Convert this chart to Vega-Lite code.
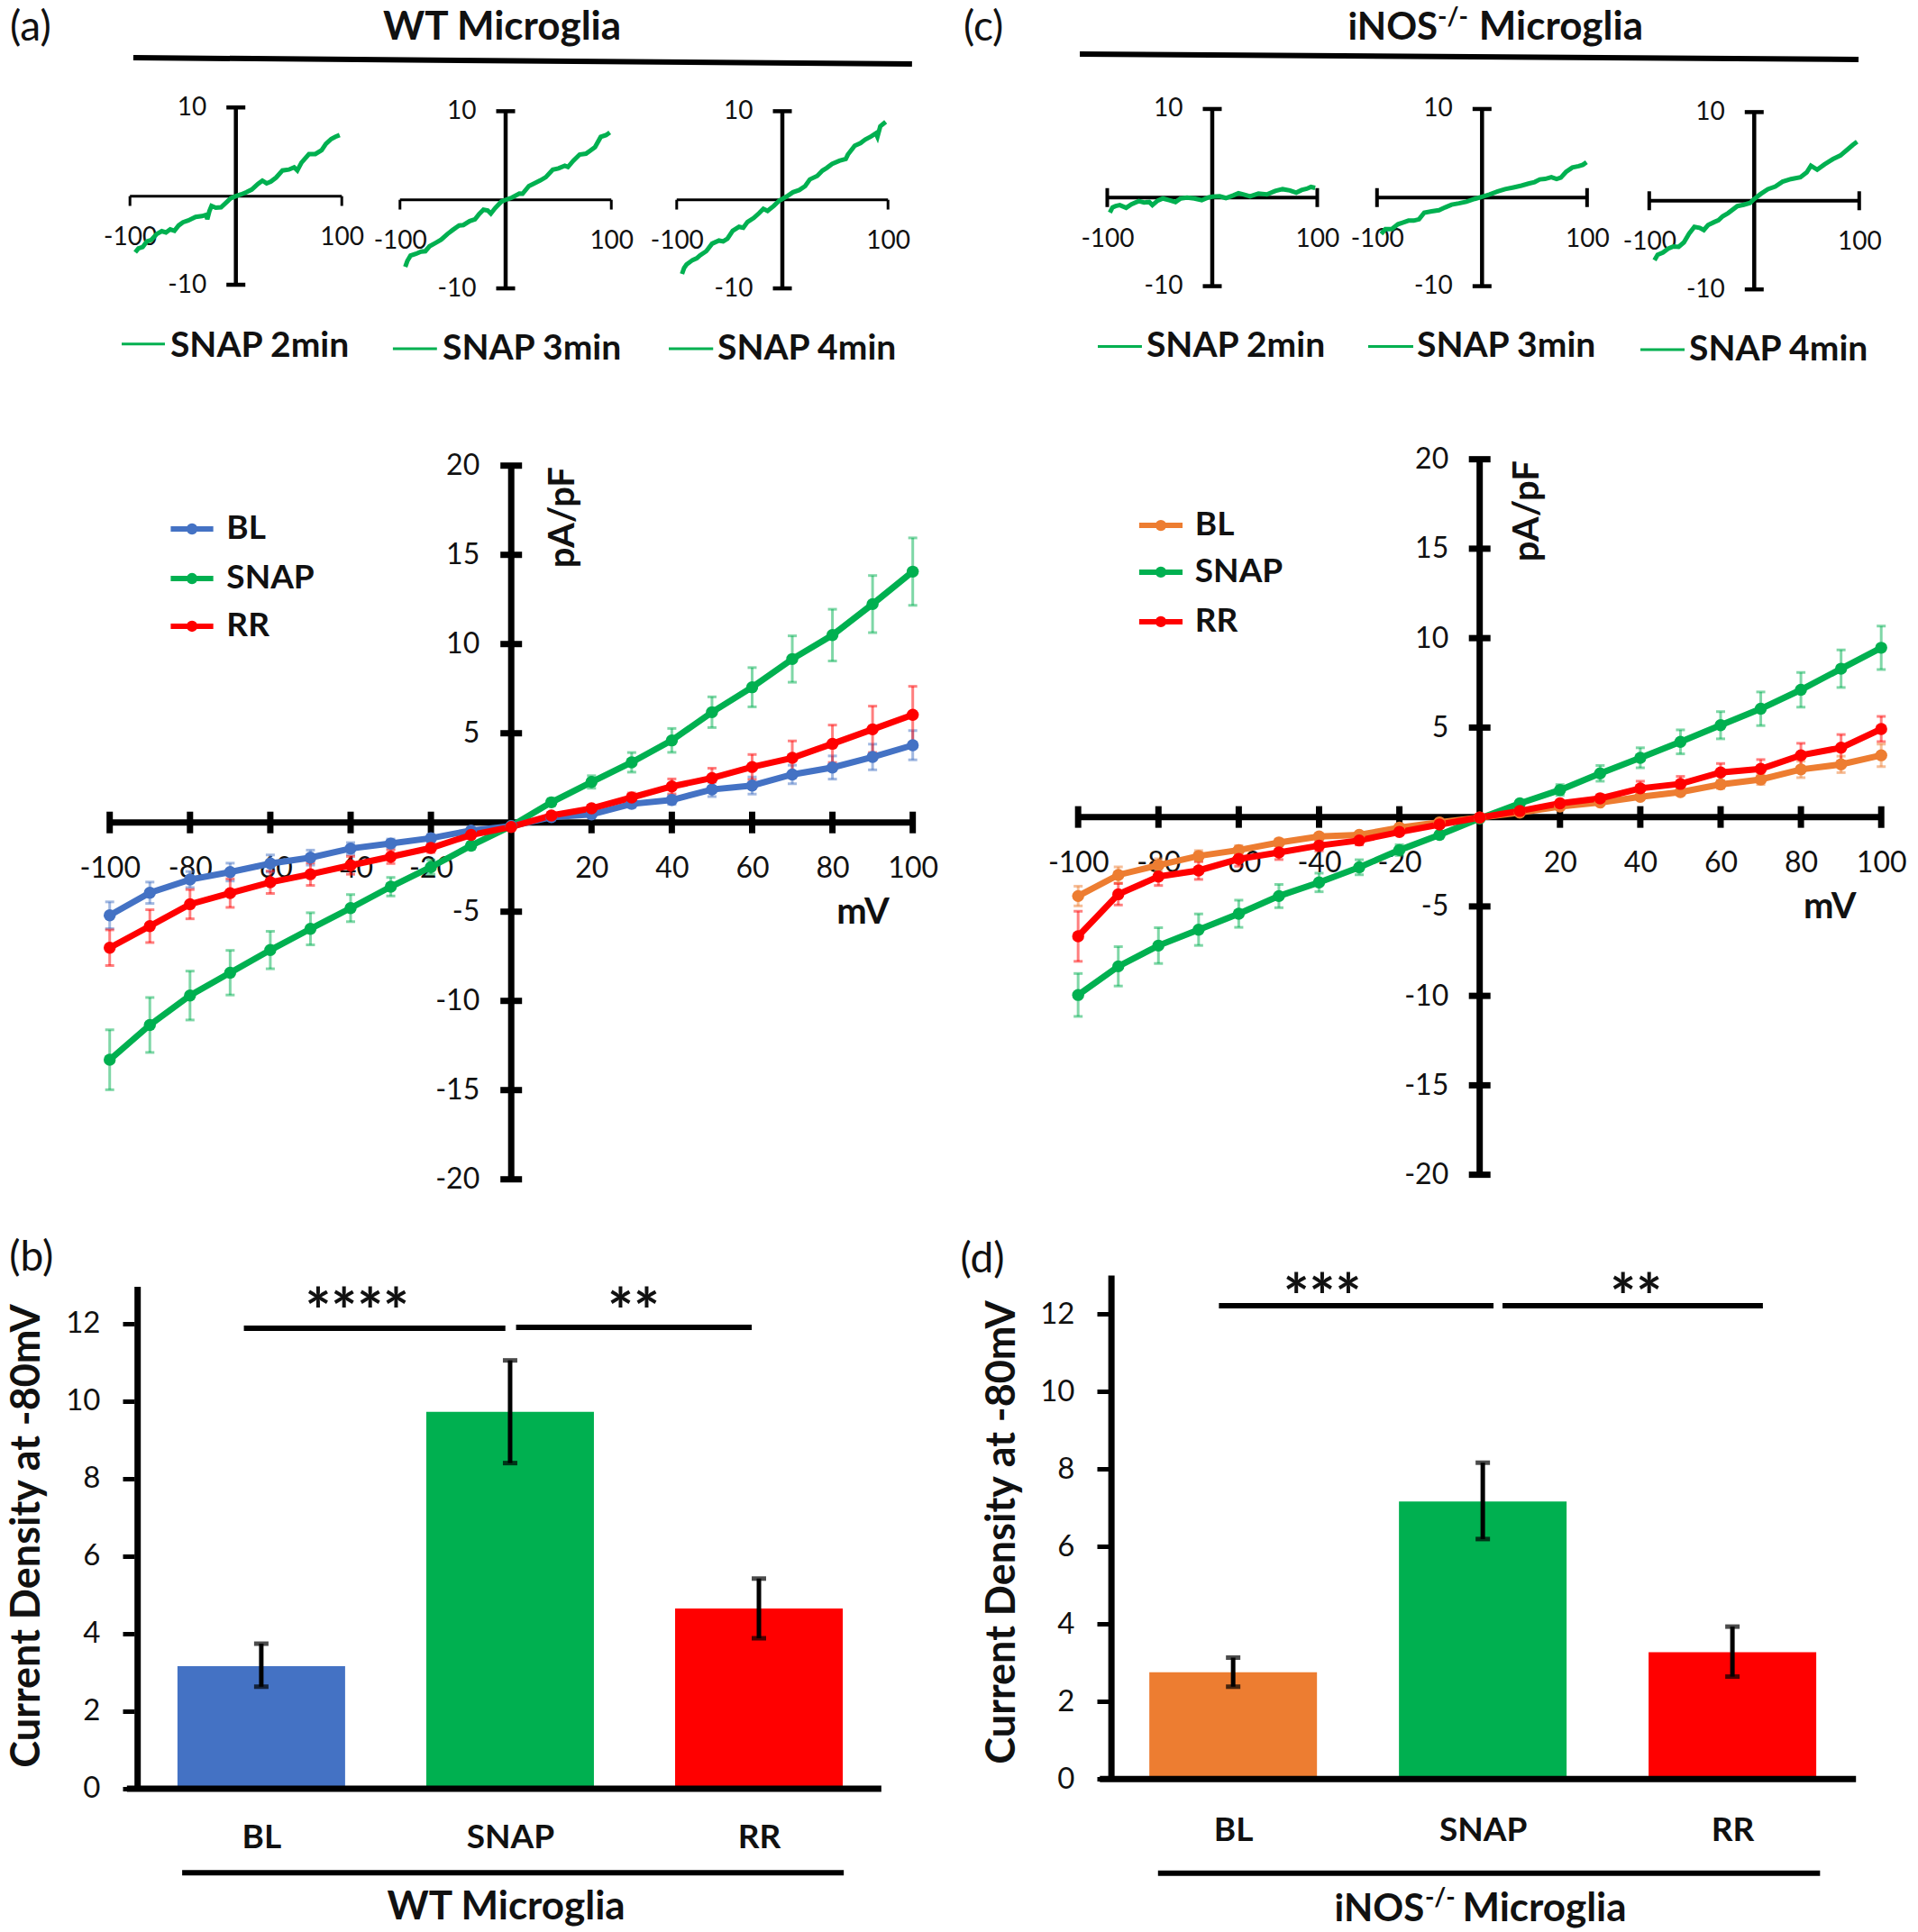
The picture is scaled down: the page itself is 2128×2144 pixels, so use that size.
{"$schema":"https://vega.github.io/schema/vega-lite/v6.json","padding":0,"background":"white","spacing":0,"config":{"view":{"stroke":null},"font":"Lato","concat":{"spacing":0},"axis":{"grid":false,"domain":false,"ticks":false,"tickSize":0,"labelFont":"Lato","labelColor":"#111","zindex":1,"labelOverlap":false,"labelBound":false,"labelFlush":false},"text":{"font":"Lato","color":"#111","baseline":"middle"}},"resolve":{"scale":{"color":"independent"}},
"datasets":{"one":[{}],
"lga":[{"s":"BL","ly":16.45},{"s":"SNAP","ly":13.67},{"s":"RR","ly":11.0}],
"lgc":[{"s":"BL","ly":16.3},{"s":"SNAP","ly":13.69},{"s":"RR","ly":10.92}],
"a1":[{"mV":-95,"pA":-6.34},{"mV":-92,"pA":-5.9},{"mV":-88,"pA":-5.75},{"mV":-84,"pA":-5.1},{"mV":-80,"pA":-4.95},{"mV":-75,"pA":-4.3},{"mV":-70,"pA":-3.95},{"mV":-66,"pA":-4.1},{"mV":-62,"pA":-3.75},{"mV":-58,"pA":-3.9},{"mV":-54,"pA":-3.3},{"mV":-50,"pA":-2.95},{"mV":-45,"pA":-2.75},{"mV":-38,"pA":-2.35},{"mV":-32,"pA":-2.25},{"mV":-28,"pA":-2.1},{"mV":-27,"pA":-2.6},{"mV":-25,"pA":-1.7},{"mV":-23,"pA":-1.1},{"mV":-19,"pA":-1.3},{"mV":-14,"pA":-1.25},{"mV":-9,"pA":-0.7},{"mV":-5,"pA":-0.25},{"mV":0,"pA":0},{"mV":5,"pA":0.2},{"mV":10,"pA":0.45},{"mV":15,"pA":0.75},{"mV":21,"pA":1.4},{"mV":25,"pA":1.75},{"mV":29,"pA":1.45},{"mV":33,"pA":1.65},{"mV":38,"pA":2.1},{"mV":44,"pA":2.9},{"mV":50,"pA":3.0},{"mV":55,"pA":3.25},{"mV":58,"pA":2.9},{"mV":62,"pA":3.8},{"mV":69,"pA":4.75},{"mV":75,"pA":4.75},{"mV":81,"pA":5.2},{"mV":85,"pA":5.9},{"mV":90,"pA":6.45},{"mV":94,"pA":6.7},{"mV":98,"pA":6.9}],
"a2":[{"mV":-95,"pA":-7.56},{"mV":-93,"pA":-6.9},{"mV":-90,"pA":-6.3},{"mV":-85,"pA":-6.1},{"mV":-80,"pA":-5.85},{"mV":-76,"pA":-5.8},{"mV":-72,"pA":-5.25},{"mV":-66,"pA":-4.85},{"mV":-61,"pA":-4.5},{"mV":-55,"pA":-3.85},{"mV":-50,"pA":-3.4},{"mV":-44,"pA":-2.9},{"mV":-40,"pA":-2.85},{"mV":-34,"pA":-2.4},{"mV":-29,"pA":-2.2},{"mV":-25,"pA":-1.6},{"mV":-21,"pA":-1.12},{"mV":-17,"pA":-1.2},{"mV":-14,"pA":-1.55},{"mV":-10,"pA":-0.95},{"mV":-4,"pA":-0.2},{"mV":0,"pA":0},{"mV":6,"pA":0.25},{"mV":13,"pA":0.7},{"mV":16,"pA":0.68},{"mV":22,"pA":1.55},{"mV":28,"pA":1.9},{"mV":33,"pA":2.2},{"mV":38,"pA":2.55},{"mV":44.6,"pA":3.4},{"mV":50,"pA":3.55},{"mV":56,"pA":3.85},{"mV":59,"pA":3.7},{"mV":64,"pA":4.4},{"mV":70,"pA":5.1},{"mV":76,"pA":5.2},{"mV":80,"pA":5.55},{"mV":84.6,"pA":5.95},{"mV":90,"pA":7.1},{"mV":95,"pA":7.3},{"mV":98.6,"pA":7.6}],
"a3":[{"mV":-95,"pA":-8.37},{"mV":-93,"pA":-7.7},{"mV":-90.7,"pA":-7.3},{"mV":-85,"pA":-6.8},{"mV":-81,"pA":-6.6},{"mV":-78,"pA":-6.27},{"mV":-72,"pA":-5.8},{"mV":-66.5,"pA":-4.95},{"mV":-60,"pA":-4.6},{"mV":-56,"pA":-4.7},{"mV":-52,"pA":-4.4},{"mV":-47,"pA":-3.5},{"mV":-41,"pA":-3.05},{"mV":-37,"pA":-3.15},{"mV":-33,"pA":-2.5},{"mV":-27,"pA":-2.05},{"mV":-22,"pA":-1.5},{"mV":-18,"pA":-1.02},{"mV":-14,"pA":-1.25},{"mV":-8,"pA":-0.68},{"mV":-3,"pA":-0.1},{"mV":0,"pA":0.1},{"mV":5,"pA":0.45},{"mV":10,"pA":0.85},{"mV":16,"pA":1.1},{"mV":21.6,"pA":1.55},{"mV":26,"pA":2.3},{"mV":33,"pA":2.7},{"mV":38,"pA":3.3},{"mV":42,"pA":3.6},{"mV":47,"pA":4.05},{"mV":54,"pA":4.4},{"mV":60,"pA":4.6},{"mV":62,"pA":5.1},{"mV":68.5,"pA":6.1},{"mV":74,"pA":6.4},{"mV":78.5,"pA":6.8},{"mV":84,"pA":7.15},{"mV":88.5,"pA":7.5},{"mV":90,"pA":7.1},{"mV":92.7,"pA":8.3},{"mV":97.8,"pA":8.8}],
"c1":[{"mV":-97.5,"pA":-1.7},{"mV":-95,"pA":-1.1},{"mV":-92,"pA":-0.95},{"mV":-88,"pA":-0.85},{"mV":-82,"pA":-1.15},{"mV":-77,"pA":-0.75},{"mV":-70,"pA":-0.4},{"mV":-65,"pA":-0.55},{"mV":-60,"pA":-0.5},{"mV":-57,"pA":-0.85},{"mV":-52,"pA":-0.35},{"mV":-47,"pA":-0.1},{"mV":-41,"pA":-0.3},{"mV":-35,"pA":-0.5},{"mV":-30,"pA":-0.1},{"mV":-24,"pA":0},{"mV":-17,"pA":-0.1},{"mV":-10,"pA":-0.3},{"mV":-4,"pA":0},{"mV":0,"pA":0.1},{"mV":7,"pA":0.15},{"mV":13,"pA":-0.05},{"mV":20,"pA":0.25},{"mV":25,"pA":0.5},{"mV":30,"pA":0.35},{"mV":36,"pA":0.15},{"mV":44,"pA":0.45},{"mV":52,"pA":0.35},{"mV":60,"pA":0.75},{"mV":67,"pA":0.95},{"mV":74,"pA":0.8},{"mV":80,"pA":0.55},{"mV":85,"pA":0.85},{"mV":90,"pA":1.0},{"mV":94,"pA":1.2},{"mV":98,"pA":1.1}],
"c2":[{"mV":-96,"pA":-4.1},{"mV":-92,"pA":-3.55},{"mV":-86,"pA":-3.55},{"mV":-80,"pA":-3.0},{"mV":-75,"pA":-2.8},{"mV":-70,"pA":-2.6},{"mV":-65,"pA":-2.6},{"mV":-60,"pA":-2.45},{"mV":-55,"pA":-1.7},{"mV":-48,"pA":-1.55},{"mV":-41,"pA":-1.42},{"mV":-35,"pA":-1.1},{"mV":-29,"pA":-0.8},{"mV":-22,"pA":-0.65},{"mV":-15,"pA":-0.47},{"mV":-7,"pA":-0.15},{"mV":0,"pA":0.1},{"mV":7,"pA":0.35},{"mV":15,"pA":0.7},{"mV":22,"pA":0.95},{"mV":30,"pA":1.15},{"mV":37.5,"pA":1.35},{"mV":45,"pA":1.6},{"mV":50,"pA":1.75},{"mV":55,"pA":2.05},{"mV":60,"pA":2.1},{"mV":66,"pA":2.3},{"mV":71,"pA":2.1},{"mV":75,"pA":2.25},{"mV":80,"pA":2.9},{"mV":86,"pA":3.4},{"mV":92,"pA":3.55},{"mV":96,"pA":3.7},{"mV":99.5,"pA":4.0}],
"c3":[{"mV":-95,"pA":-6.7},{"mV":-92,"pA":-6.1},{"mV":-87,"pA":-5.85},{"mV":-82,"pA":-5.4},{"mV":-77,"pA":-5.15},{"mV":-72,"pA":-5.2},{"mV":-67,"pA":-4.7},{"mV":-62,"pA":-3.7},{"mV":-57,"pA":-2.95},{"mV":-52,"pA":-3.05},{"mV":-48,"pA":-3.3},{"mV":-44,"pA":-2.75},{"mV":-38,"pA":-2.4},{"mV":-34,"pA":-2.2},{"mV":-30,"pA":-1.75},{"mV":-25,"pA":-1.4},{"mV":-16,"pA":-0.6},{"mV":-10,"pA":-0.45},{"mV":-4,"pA":-0.25},{"mV":0,"pA":0.2},{"mV":6,"pA":0.75},{"mV":13,"pA":1.3},{"mV":20,"pA":1.6},{"mV":27,"pA":2.15},{"mV":35,"pA":2.45},{"mV":44,"pA":2.65},{"mV":50,"pA":3.2},{"mV":54,"pA":3.95},{"mV":60,"pA":3.5},{"mV":67,"pA":4.1},{"mV":75,"pA":4.7},{"mV":82,"pA":5.1},{"mV":90,"pA":5.9},{"mV":94,"pA":6.3},{"mV":98,"pA":6.65}],
"iva":[{"mV":-100,"s":"SNAP","v":-13.3,"e":1.68},{"mV":-90,"s":"SNAP","v":-11.35,"e":1.54},{"mV":-80,"s":"SNAP","v":-9.7,"e":1.37},{"mV":-70,"s":"SNAP","v":-8.42,"e":1.25},{"mV":-60,"s":"SNAP","v":-7.15,"e":1.05},{"mV":-50,"s":"SNAP","v":-5.96,"e":0.9},{"mV":-40,"s":"SNAP","v":-4.8,"e":0.76},{"mV":-30,"s":"SNAP","v":-3.6,"e":0.52},{"mV":-20,"s":"SNAP","v":-2.5,"e":0.4},{"mV":-10,"s":"SNAP","v":-1.3,"e":0.2},{"mV":0,"s":"SNAP","v":-0.2,"e":0.05},{"mV":10,"s":"SNAP","v":1.13,"e":0.2},{"mV":20,"s":"SNAP","v":2.27,"e":0.35},{"mV":30,"s":"SNAP","v":3.37,"e":0.55},{"mV":40,"s":"SNAP","v":4.6,"e":0.67},{"mV":50,"s":"SNAP","v":6.18,"e":0.86},{"mV":60,"s":"SNAP","v":7.58,"e":1.1},{"mV":70,"s":"SNAP","v":9.16,"e":1.3},{"mV":80,"s":"SNAP","v":10.5,"e":1.45},{"mV":90,"s":"SNAP","v":12.24,"e":1.6},{"mV":100,"s":"SNAP","v":14.06,"e":1.89},
{"mV":-100,"s":"BL","v":-5.2,"e":0.75},{"mV":-90,"s":"BL","v":-3.94,"e":0.6},{"mV":-80,"s":"BL","v":-3.2,"e":0.45},{"mV":-70,"s":"BL","v":-2.78,"e":0.5},{"mV":-60,"s":"BL","v":-2.3,"e":0.48},{"mV":-50,"s":"BL","v":-1.97,"e":0.42},{"mV":-40,"s":"BL","v":-1.46,"e":0.33},{"mV":-30,"s":"BL","v":-1.18,"e":0.25},{"mV":-20,"s":"BL","v":-0.88,"e":0.2},{"mV":-10,"s":"BL","v":-0.45,"e":0.1},{"mV":0,"s":"BL","v":-0.2,"e":0.05},{"mV":10,"s":"BL","v":0.3,"e":0.08},{"mV":20,"s":"BL","v":0.45,"e":0.12},{"mV":30,"s":"BL","v":1.04,"e":0.2},{"mV":40,"s":"BL","v":1.26,"e":0.25},{"mV":50,"s":"BL","v":1.85,"e":0.4},{"mV":60,"s":"BL","v":2.07,"e":0.48},{"mV":70,"s":"BL","v":2.69,"e":0.52},{"mV":80,"s":"BL","v":3.08,"e":0.65},{"mV":90,"s":"BL","v":3.67,"e":0.72},{"mV":100,"s":"BL","v":4.33,"e":0.82},
{"mV":-100,"s":"RR","v":-7.02,"e":1.0},{"mV":-90,"s":"RR","v":-5.81,"e":0.92},{"mV":-80,"s":"RR","v":-4.58,"e":0.82},{"mV":-70,"s":"RR","v":-3.96,"e":0.8},{"mV":-60,"s":"RR","v":-3.35,"e":0.63},{"mV":-50,"s":"RR","v":-2.9,"e":0.63},{"mV":-40,"s":"RR","v":-2.4,"e":0.5},{"mV":-30,"s":"RR","v":-1.92,"e":0.38},{"mV":-20,"s":"RR","v":-1.43,"e":0.25},{"mV":-10,"s":"RR","v":-0.7,"e":0.15},{"mV":0,"s":"RR","v":-0.25,"e":0.05},{"mV":10,"s":"RR","v":0.39,"e":0.1},{"mV":20,"s":"RR","v":0.79,"e":0.15},{"mV":30,"s":"RR","v":1.4,"e":0.25},{"mV":40,"s":"RR","v":2.02,"e":0.42},{"mV":50,"s":"RR","v":2.49,"e":0.55},{"mV":60,"s":"RR","v":3.11,"e":0.7},{"mV":70,"s":"RR","v":3.62,"e":0.95},{"mV":80,"s":"RR","v":4.41,"e":1.05},{"mV":90,"s":"RR","v":5.22,"e":1.3},{"mV":100,"s":"RR","v":6.03,"e":1.6}],
"ivc":[{"mV":-100,"s":"SNAP","v":-9.95,"e":1.2},{"mV":-90,"s":"SNAP","v":-8.35,"e":1.1},{"mV":-80,"s":"SNAP","v":-7.19,"e":1.0},{"mV":-70,"s":"SNAP","v":-6.3,"e":0.88},{"mV":-60,"s":"SNAP","v":-5.41,"e":0.76},{"mV":-50,"s":"SNAP","v":-4.42,"e":0.65},{"mV":-40,"s":"SNAP","v":-3.66,"e":0.52},{"mV":-30,"s":"SNAP","v":-2.81,"e":0.42},{"mV":-20,"s":"SNAP","v":-1.85,"e":0.3},{"mV":-10,"s":"SNAP","v":-1.0,"e":0.15},{"mV":0,"s":"SNAP","v":-0.08,"e":0.05},{"mV":10,"s":"SNAP","v":0.76,"e":0.15},{"mV":20,"s":"SNAP","v":1.51,"e":0.3},{"mV":30,"s":"SNAP","v":2.44,"e":0.44},{"mV":40,"s":"SNAP","v":3.31,"e":0.56},{"mV":50,"s":"SNAP","v":4.2,"e":0.67},{"mV":60,"s":"SNAP","v":5.13,"e":0.76},{"mV":70,"s":"SNAP","v":6.05,"e":0.94},{"mV":80,"s":"SNAP","v":7.11,"e":0.97},{"mV":90,"s":"SNAP","v":8.29,"e":1.05},{"mV":100,"s":"SNAP","v":9.46,"e":1.21},
{"mV":-100,"s":"BL","v":-4.42,"e":0.55},{"mV":-90,"s":"BL","v":-3.24,"e":0.45},{"mV":-80,"s":"BL","v":-2.69,"e":0.35},{"mV":-70,"s":"BL","v":-2.18,"e":0.3},{"mV":-60,"s":"BL","v":-1.85,"e":0.25},{"mV":-50,"s":"BL","v":-1.43,"e":0.2},{"mV":-40,"s":"BL","v":-1.09,"e":0.15},{"mV":-30,"s":"BL","v":-1.0,"e":0.15},{"mV":-20,"s":"BL","v":-0.59,"e":0.1},{"mV":-10,"s":"BL","v":-0.3,"e":0.05},{"mV":0,"s":"BL","v":-0.03,"e":0.03},{"mV":10,"s":"BL","v":0.25,"e":0.05},{"mV":20,"s":"BL","v":0.59,"e":0.1},{"mV":30,"s":"BL","v":0.81,"e":0.12},{"mV":40,"s":"BL","v":1.13,"e":0.15},{"mV":50,"s":"BL","v":1.39,"e":0.18},{"mV":60,"s":"BL","v":1.82,"e":0.22},{"mV":70,"s":"BL","v":2.1,"e":0.28},{"mV":80,"s":"BL","v":2.66,"e":0.46},{"mV":90,"s":"BL","v":2.94,"e":0.46},{"mV":100,"s":"BL","v":3.45,"e":0.63},
{"mV":-100,"s":"RR","v":-6.67,"e":1.4},{"mV":-90,"s":"RR","v":-4.32,"e":0.6},{"mV":-80,"s":"RR","v":-3.33,"e":0.5},{"mV":-70,"s":"RR","v":-2.99,"e":0.5},{"mV":-60,"s":"RR","v":-2.35,"e":0.4},{"mV":-50,"s":"RR","v":-1.98,"e":0.4},{"mV":-40,"s":"RR","v":-1.6,"e":0.3},{"mV":-30,"s":"RR","v":-1.31,"e":0.25},{"mV":-20,"s":"RR","v":-0.84,"e":0.15},{"mV":-10,"s":"RR","v":-0.42,"e":0.1},{"mV":0,"s":"RR","v":-0.03,"e":0.03},{"mV":10,"s":"RR","v":0.34,"e":0.08},{"mV":20,"s":"RR","v":0.76,"e":0.12},{"mV":30,"s":"RR","v":1.04,"e":0.2},{"mV":40,"s":"RR","v":1.6,"e":0.4},{"mV":50,"s":"RR","v":1.85,"e":0.42},{"mV":60,"s":"RR","v":2.49,"e":0.5},{"mV":70,"s":"RR","v":2.69,"e":0.52},{"mV":80,"s":"RR","v":3.45,"e":0.67},{"mV":90,"s":"RR","v":3.87,"e":0.74},{"mV":100,"s":"RR","v":4.92,"e":0.71}],
"xt":[{"t":-100},{"t":-80},{"t":-60},{"t":-40},{"t":-20},{"t":20},{"t":40},{"t":60},{"t":80},{"t":100}],
"yt":[{"t":-20},{"t":-15},{"t":-10},{"t":-5},{"t":5},{"t":10},{"t":15},{"t":20}],
"sx":[{"t":-100},{"t":100}],"sy":[{"t":-10},{"t":10}],
"bb":[{"g":"BL","pos":1,"v":3.16,"lo":2.63,"hi":3.74},{"g":"SNAP","pos":2,"v":9.72,"lo":8.4,"hi":11.05},{"g":"RR","pos":3,"v":4.65,"lo":3.88,"hi":5.42}],
"bd":[{"g":"BL","pos":1,"v":2.75,"lo":2.38,"hi":3.13},{"g":"SNAP","pos":2,"v":7.16,"lo":6.19,"hi":8.16},{"g":"RR","pos":3,"v":3.27,"lo":2.64,"hi":3.93}]},
"vconcat":[
{"hconcat":[
{"width":1064,"height":100,"data":{"name":"one"},"layer":[
{"data":{"values":[{"x":0.139,"y":0.64},{"x":0.951,"y":0.71}]},"mark":{"type":"line","strokeWidth":6,"color":"#000"},"encoding":{"x":{"field":"x","type":"quantitative","scale":{"domain":[0,1],"nice":false,"zero":false},"axis":null},"y":{"field":"y","type":"quantitative","scale":{"domain":[1,0],"nice":false,"zero":false},"axis":null}}},
{"mark":{"type":"text","text":"(a)","fontSize":46,"align":"left"},"encoding":{"x":{"datum":0.0103},"y":{"datum":0.31}}},
{"mark":{"type":"text","text":"WT Microglia","fontSize":44,"fontWeight":"bold","align":"center"},"encoding":{"x":{"datum":0.5235},"y":{"datum":0.31}}}]},
{"width":1064,"height":100,"data":{"name":"one"},"layer":[
{"data":{"values":[{"x":0.126,"y":0.6},{"x":0.938,"y":0.66}]},"mark":{"type":"line","strokeWidth":6,"color":"#000"},"encoding":{"x":{"field":"x","type":"quantitative","scale":{"domain":[0,1],"nice":false,"zero":false},"axis":null},"y":{"field":"y","type":"quantitative","scale":{"domain":[1,0],"nice":false,"zero":false},"axis":null}}},
{"mark":{"type":"text","text":"(c)","fontSize":46,"align":"left"},"encoding":{"x":{"datum":0.0047},"y":{"datum":0.31}}},
{"mark":{"type":"text","text":"iNOS","fontSize":42,"fontWeight":"bold","align":"left"},"encoding":{"x":{"datum":0.4055},"y":{"datum":0.31}}},
{"mark":{"type":"text","text":"-/-","fontSize":28,"fontWeight":"bold","align":"left"},"encoding":{"x":{"datum":0.499},"y":{"datum":0.2}}},
{"mark":{"type":"text","text":"Microglia","fontSize":44,"fontWeight":"bold","align":"left"},"encoding":{"x":{"datum":0.5421},"y":{"datum":0.31}}}]}
]},
{"hconcat":[
{"width":410,"height":310,"data":{"name":"a1"},"layer":[
{"data":{"name":"one"},"mark":{"type":"rule","strokeWidth":3,"color":"#000"},"encoding":{"x":{"datum":-100},"x2":{"datum":100},"y":{"datum":0}}},
{"data":{"name":"sx"},"mark":{"type":"rule","strokeWidth":3,"color":"#000"},"encoding":{"x":{"field":"t","type":"quantitative","title":null},"y":{"datum":0},"y2":{"datum":-1.1}}},
{"data":{"name":"one"},"mark":{"type":"rule","strokeWidth":4.5,"color":"#000"},"encoding":{"x":{"datum":0},"y":{"datum":-10},"y2":{"datum":10}}},
{"data":{"name":"sy"},"mark":{"type":"tick","orient":"horizontal","size":21,"thickness":4.5,"color":"#000","opacity":1},"encoding":{"x":{"datum":0},"y":{"field":"t","type":"quantitative","title":null}}},
{"mark":{"type":"line","color":"#00B050","strokeWidth":5},"encoding":{"x":{"field":"mV","type":"quantitative","title":null,"scale":{"domain":[-222.7,126.2],"nice":false,"zero":false},"axis":{"values":[-100,100],"offset":-192.3,"labelPadding":32,"labelFontSize":28,"labelExpr":"''+datum.value"}},"y":{"field":"pA","type":"quantitative","title":null,"scale":{"domain":[-19.56,11.97],"nice":false,"zero":false},"axis":{"values":[-10,10],"offset":-261.7,"labelPadding":33,"labelFontSize":28,"labelExpr":"''+datum.value"}}}},
{"data":{"name":"one"},"mark":{"type":"rule","strokeWidth":3,"color":"#00B050"},"encoding":{"x":{"datum":-107.8},"x2":{"datum":-67},"y":{"datum":-16.68}}},
{"data":{"name":"one"},"mark":{"type":"text","text":"SNAP 2min","fontSize":39,"fontWeight":"bold","align":"left"},"encoding":{"x":{"datum":-61.9},"y":{"datum":-16.9}}}]},
{"width":302,"height":310,"data":{"name":"a2"},"layer":[
{"data":{"name":"one"},"mark":{"type":"rule","strokeWidth":3,"color":"#000"},"encoding":{"x":{"datum":-100},"x2":{"datum":100},"y":{"datum":0}}},
{"data":{"name":"sx"},"mark":{"type":"rule","strokeWidth":3,"color":"#000"},"encoding":{"x":{"field":"t","type":"quantitative","title":null},"y":{"datum":0},"y2":{"datum":-1.1}}},
{"data":{"name":"one"},"mark":{"type":"rule","strokeWidth":4.5,"color":"#000"},"encoding":{"x":{"datum":0},"y":{"datum":-10},"y2":{"datum":10}}},
{"data":{"name":"sy"},"mark":{"type":"tick","orient":"horizontal","size":21,"thickness":4.5,"color":"#000","opacity":1},"encoding":{"x":{"datum":0},"y":{"field":"t","type":"quantitative","title":null}}},
{"mark":{"type":"line","color":"#00B050","strokeWidth":5},"encoding":{"x":{"field":"mV","type":"quantitative","title":null,"scale":{"domain":[-128.8,128.8],"nice":false,"zero":false},"axis":{"values":[-100,100],"offset":-188.3,"labelPadding":32,"labelFontSize":28,"labelExpr":"''+datum.value"}},"y":{"field":"pA","type":"quantitative","title":null,"scale":{"domain":[-19.15,12.38],"nice":false,"zero":false},"axis":{"values":[-10,10],"offset":-151,"labelPadding":33,"labelFontSize":28,"labelExpr":"''+datum.value"}}}},
{"data":{"name":"one"},"mark":{"type":"rule","strokeWidth":3,"color":"#00B050"},"encoding":{"x":{"datum":-106.7},"x2":{"datum":-65},"y":{"datum":-16.8}}},
{"data":{"name":"one"},"mark":{"type":"text","text":"SNAP 3min","fontSize":39,"fontWeight":"bold","align":"left"},"encoding":{"x":{"datum":-59.7},"y":{"datum":-16.8}}}]},
{"width":352,"height":310,"data":{"name":"a3"},"layer":[
{"data":{"name":"one"},"mark":{"type":"rule","strokeWidth":3,"color":"#000"},"encoding":{"x":{"datum":-100},"x2":{"datum":100},"y":{"datum":0}}},
{"data":{"name":"sx"},"mark":{"type":"rule","strokeWidth":3,"color":"#000"},"encoding":{"x":{"field":"t","type":"quantitative","title":null},"y":{"datum":0},"y2":{"datum":-1.1}}},
{"data":{"name":"one"},"mark":{"type":"rule","strokeWidth":4.5,"color":"#000"},"encoding":{"x":{"datum":0},"y":{"datum":-10},"y2":{"datum":10}}},
{"data":{"name":"sy"},"mark":{"type":"tick","orient":"horizontal","size":21,"thickness":4.5,"color":"#000","opacity":1},"encoding":{"x":{"datum":0},"y":{"field":"t","type":"quantitative","title":null}}},
{"mark":{"type":"line","color":"#00B050","strokeWidth":5},"encoding":{"x":{"field":"mV","type":"quantitative","title":null,"scale":{"domain":[-133.1,167.2],"nice":false,"zero":false},"axis":{"values":[-100,100],"offset":-188.3,"labelPadding":32,"labelFontSize":28,"labelExpr":"''+datum.value"}},"y":{"field":"pA","type":"quantitative","title":null,"scale":{"domain":[-19.15,12.38],"nice":false,"zero":false},"axis":{"values":[-10,10],"offset":-156,"labelPadding":33,"labelFontSize":28,"labelExpr":"''+datum.value"}}}},
{"data":{"name":"one"},"mark":{"type":"rule","strokeWidth":3,"color":"#00B050"},"encoding":{"x":{"datum":-107.5},"x2":{"datum":-65.5},"y":{"datum":-16.8}}},
{"data":{"name":"one"},"mark":{"type":"text","text":"SNAP 4min","fontSize":39,"fontWeight":"bold","align":"left"},"encoding":{"x":{"datum":-61.4},"y":{"datum":-16.8}}}]},
{"width":428,"height":310,"data":{"name":"c1"},"layer":[
{"data":{"name":"one"},"mark":{"type":"rule","strokeWidth":4,"color":"#000"},"encoding":{"x":{"datum":-100},"x2":{"datum":100},"y":{"datum":0}}},
{"data":{"name":"sx"},"mark":{"type":"tick","orient":"vertical","size":21,"thickness":4,"color":"#000","opacity":1},"encoding":{"x":{"field":"t","type":"quantitative","title":null},"y":{"datum":0}}},
{"data":{"name":"one"},"mark":{"type":"rule","strokeWidth":4.5,"color":"#000"},"encoding":{"x":{"datum":0},"y":{"datum":-10},"y2":{"datum":10}}},
{"data":{"name":"sy"},"mark":{"type":"tick","orient":"horizontal","size":21,"thickness":4.5,"color":"#000","opacity":1},"encoding":{"x":{"datum":0},"y":{"field":"t","type":"quantitative","title":null}}},
{"mark":{"type":"line","color":"#00B050","strokeWidth":5},"encoding":{"x":{"field":"mV","type":"quantitative","title":null,"scale":{"domain":[-241.2,126.2],"nice":false,"zero":false},"axis":{"values":[-100,100],"offset":-190.7,"labelPadding":32,"labelFontSize":28,"labelExpr":"''+datum.value"}},"y":{"field":"pA","type":"quantitative","title":null,"scale":{"domain":[-19.4,12.13],"nice":false,"zero":false},"axis":{"values":[-10,10],"offset":-281,"labelPadding":33,"labelFontSize":28,"labelExpr":"''+datum.value"}}}},
{"data":{"name":"one"},"mark":{"type":"rule","strokeWidth":3,"color":"#00B050"},"encoding":{"x":{"datum":-109},"x2":{"datum":-67},"y":{"datum":-16.8}}},
{"data":{"name":"one"},"mark":{"type":"text","text":"SNAP 2min","fontSize":39,"fontWeight":"bold","align":"left"},"encoding":{"x":{"datum":-62.7},"y":{"datum":-16.8}}}]},
{"width":301,"height":310,"data":{"name":"c2"},"layer":[
{"data":{"name":"one"},"mark":{"type":"rule","strokeWidth":4,"color":"#000"},"encoding":{"x":{"datum":-100},"x2":{"datum":100},"y":{"datum":0}}},
{"data":{"name":"sx"},"mark":{"type":"tick","orient":"vertical","size":21,"thickness":4,"color":"#000","opacity":1},"encoding":{"x":{"field":"t","type":"quantitative","title":null},"y":{"datum":0}}},
{"data":{"name":"one"},"mark":{"type":"rule","strokeWidth":4.5,"color":"#000"},"encoding":{"x":{"datum":0},"y":{"datum":-10},"y2":{"datum":10}}},
{"data":{"name":"sy"},"mark":{"type":"tick","orient":"horizontal","size":21,"thickness":4.5,"color":"#000","opacity":1},"encoding":{"x":{"datum":0},"y":{"field":"t","type":"quantitative","title":null}}},
{"mark":{"type":"line","color":"#00B050","strokeWidth":5},"encoding":{"x":{"field":"mV","type":"quantitative","title":null,"scale":{"domain":[-130.7,127.6],"nice":false,"zero":false},"axis":{"values":[-100,100],"offset":-190.7,"labelPadding":32,"labelFontSize":28,"labelExpr":"''+datum.value"}},"y":{"field":"pA","type":"quantitative","title":null,"scale":{"domain":[-19.4,12.13],"nice":false,"zero":false},"axis":{"values":[-10,10],"offset":-152.3,"labelPadding":33,"labelFontSize":28,"labelExpr":"''+datum.value"}}}},
{"data":{"name":"one"},"mark":{"type":"rule","strokeWidth":3,"color":"#00B050"},"encoding":{"x":{"datum":-108.4},"x2":{"datum":-65.5},"y":{"datum":-16.8}}},
{"data":{"name":"one"},"mark":{"type":"text","text":"SNAP 3min","fontSize":39,"fontWeight":"bold","align":"left"},"encoding":{"x":{"datum":-62},"y":{"datum":-16.8}}}]},
{"width":335,"height":310,"data":{"name":"c3"},"layer":[
{"data":{"name":"one"},"mark":{"type":"rule","strokeWidth":4,"color":"#000"},"encoding":{"x":{"datum":-100},"x2":{"datum":100},"y":{"datum":0}}},
{"data":{"name":"sx"},"mark":{"type":"tick","orient":"vertical","size":21,"thickness":4,"color":"#000","opacity":1},"encoding":{"x":{"field":"t","type":"quantitative","title":null},"y":{"datum":0}}},
{"data":{"name":"one"},"mark":{"type":"rule","strokeWidth":4.5,"color":"#000"},"encoding":{"x":{"datum":0},"y":{"datum":-10},"y2":{"datum":10}}},
{"data":{"name":"sy"},"mark":{"type":"tick","orient":"horizontal","size":21,"thickness":4.5,"color":"#000","opacity":1},"encoding":{"x":{"datum":0},"y":{"field":"t","type":"quantitative","title":null}}},
{"mark":{"type":"line","color":"#00B050","strokeWidth":5},"encoding":{"x":{"field":"mV","type":"quantitative","title":null,"scale":{"domain":[-131.6,156],"nice":false,"zero":false},"axis":{"values":[-100,100],"offset":-187.3,"labelPadding":32,"labelFontSize":28,"labelExpr":"''+datum.value"}},"y":{"field":"pA","type":"quantitative","title":null,"scale":{"domain":[-19.03,12.48],"nice":false,"zero":false},"axis":{"values":[-10,10],"offset":-153.3,"labelPadding":33,"labelFontSize":28,"labelExpr":"''+datum.value"}}}},
{"data":{"name":"one"},"mark":{"type":"rule","strokeWidth":3,"color":"#00B050"},"encoding":{"x":{"datum":-108.4},"x2":{"datum":-66.3},"y":{"datum":-16.8}}},
{"data":{"name":"one"},"mark":{"type":"text","text":"SNAP 4min","fontSize":39,"fontWeight":"bold","align":"left"},"encoding":{"x":{"datum":-62},"y":{"datum":-16.8}}}]}
]},
{"hconcat":[
{"width":1064,"height":950,"data":{"name":"iva"},"layer":[
{"data":{"name":"one"},"mark":{"type":"rule","strokeWidth":7,"color":"#000"},"encoding":{"x":{"datum":-100},"x2":{"datum":100},"y":{"datum":0}}},
{"data":{"name":"one"},"mark":{"type":"rule","strokeWidth":7,"color":"#000"},"encoding":{"x":{"datum":0},"y":{"datum":-20},"y2":{"datum":20}}},
{"data":{"name":"xt"},"mark":{"type":"tick","orient":"vertical","size":24,"thickness":7,"color":"#000","opacity":1},"encoding":{"x":{"field":"t","type":"quantitative","title":null},"y":{"datum":0}}},
{"data":{"name":"yt"},"mark":{"type":"tick","orient":"horizontal","size":24,"thickness":7,"color":"#000","opacity":1},"encoding":{"x":{"datum":0},"y":{"field":"t","type":"quantitative","title":null}}},
{"mark":{"type":"errorbar","orient":"vertical","ticks":{"size":10,"thickness":3,"opacity":0.5},"rule":{"strokeWidth":3,"opacity":0.5}},"encoding":{"x":{"field":"mV","type":"quantitative","title":null},"y":{"field":"v","type":"quantitative","title":null},"yError":{"field":"e"},"color":{"field":"s","type":"nominal","scale":{"domain":["BL","SNAP","RR"],"range":["#4472C4","#00B050","#FF0000"]},"legend":null}}},
{"mark":{"type":"line","strokeWidth":7},"encoding":{"x":{"field":"mV","type":"quantitative","title":null,"scale":{"domain":[-127.32,111.52],"nice":false,"zero":false},"axis":{"values":[-100,-80,-60,-40,-20,20,40,60,80,100],"offset":-447.3,"labelPadding":36,"labelFontSize":32,"labelExpr":"''+datum.value"}},"y":{"field":"v","type":"quantitative","title":null,"scale":{"domain":[-22.59,25.39],"nice":false,"zero":false},"axis":{"values":[-20,-15,-10,-5,5,10,15,20],"offset":-566.7,"labelPadding":35,"labelFontSize":32,"labelExpr":"''+datum.value"}},"color":{"field":"s","type":"nominal","legend":null}}},
{"mark":{"type":"point","filled":true,"size":180,"opacity":1},"encoding":{"x":{"field":"mV","type":"quantitative","title":null},"y":{"field":"v","type":"quantitative","title":null},"color":{"field":"s","type":"nominal","legend":null}}},
{"data":{"name":"lga"},"mark":{"type":"rule","strokeWidth":6},"encoding":{"x":{"datum":-84.8},"x2":{"datum":-74.2},"y":{"field":"ly","type":"quantitative","title":null},"color":{"field":"s","type":"nominal","legend":null}}},
{"data":{"name":"lga"},"mark":{"type":"point","filled":true,"size":154,"opacity":1},"encoding":{"x":{"datum":-79.5},"y":{"field":"ly","type":"quantitative","title":null},"color":{"field":"s","type":"nominal","legend":null}}},
{"data":{"name":"lga"},"mark":{"type":"text","fontSize":37,"fontWeight":"bold","align":"left"},"encoding":{"x":{"datum":-70.9},"y":{"field":"ly","type":"quantitative","title":null},"text":{"field":"s"}}},
{"data":{"name":"one"},"mark":{"type":"text","text":"mV","fontSize":40,"fontWeight":"bold","align":"center"},"encoding":{"x":{"datum":87.6},"y":{"datum":-5.07}}},
{"data":{"name":"one"},"mark":{"type":"text","text":"pA/pF","fontSize":40,"fontWeight":"bold","align":"center","angle":270},"encoding":{"x":{"datum":13},"y":{"datum":17.1}}}]},
{"width":1064,"height":950,"data":{"name":"ivc"},"layer":[
{"data":{"name":"one"},"mark":{"type":"rule","strokeWidth":7,"color":"#000"},"encoding":{"x":{"datum":-100},"x2":{"datum":100},"y":{"datum":0}}},
{"data":{"name":"one"},"mark":{"type":"rule","strokeWidth":7,"color":"#000"},"encoding":{"x":{"datum":0},"y":{"datum":-20},"y2":{"datum":20}}},
{"data":{"name":"xt"},"mark":{"type":"tick","orient":"vertical","size":24,"thickness":7,"color":"#000","opacity":1},"encoding":{"x":{"field":"t","type":"quantitative","title":null},"y":{"datum":0}}},
{"data":{"name":"yt"},"mark":{"type":"tick","orient":"horizontal","size":24,"thickness":7,"color":"#000","opacity":1},"encoding":{"x":{"datum":0},"y":{"field":"t","type":"quantitative","title":null}}},
{"mark":{"type":"errorbar","orient":"vertical","ticks":{"size":10,"thickness":3,"opacity":0.5},"rule":{"strokeWidth":3,"opacity":0.5}},"encoding":{"x":{"field":"mV","type":"quantitative","title":null},"y":{"field":"v","type":"quantitative","title":null},"yError":{"field":"e"},"color":{"field":"s","type":"nominal","scale":{"domain":["BL","SNAP","RR"],"range":["#ED7D31","#00B050","#FF0000"]},"legend":null}}},
{"mark":{"type":"line","strokeWidth":7},"encoding":{"x":{"field":"mV","type":"quantitative","title":null,"scale":{"domain":[-129.67,109.16],"nice":false,"zero":false},"axis":{"values":[-100,-80,-60,-40,-20,20,40,60,80,100],"offset":-453.3,"labelPadding":36,"labelFontSize":32,"labelExpr":"''+datum.value"}},"y":{"field":"v","type":"quantitative","title":null,"scale":{"domain":[-22.84,25.02],"nice":false,"zero":false},"axis":{"values":[-20,-15,-10,-5,5,10,15,20],"offset":-577.7,"labelPadding":35,"labelFontSize":32,"labelExpr":"''+datum.value"}},"color":{"field":"s","type":"nominal","legend":null}}},
{"mark":{"type":"point","filled":true,"size":180,"opacity":1},"encoding":{"x":{"field":"mV","type":"quantitative","title":null},"y":{"field":"v","type":"quantitative","title":null},"color":{"field":"s","type":"nominal","legend":null}}},
{"data":{"name":"lgc"},"mark":{"type":"rule","strokeWidth":6},"encoding":{"x":{"datum":-84.8},"x2":{"datum":-74},"y":{"field":"ly","type":"quantitative","title":null},"color":{"field":"s","type":"nominal","legend":null}}},
{"data":{"name":"lgc"},"mark":{"type":"point","filled":true,"size":154,"opacity":1},"encoding":{"x":{"datum":-79.4},"y":{"field":"ly","type":"quantitative","title":null},"color":{"field":"s","type":"nominal","legend":null}}},
{"data":{"name":"lgc"},"mark":{"type":"text","fontSize":37,"fontWeight":"bold","align":"left"},"encoding":{"x":{"datum":-70.9},"y":{"field":"ly","type":"quantitative","title":null},"text":{"field":"s"}}},
{"data":{"name":"one"},"mark":{"type":"text","text":"mV","fontSize":40,"fontWeight":"bold","align":"center"},"encoding":{"x":{"datum":87.2},"y":{"datum":-5.07}}},
{"data":{"name":"one"},"mark":{"type":"text","text":"pA/pF","fontSize":40,"fontWeight":"bold","align":"center","angle":270},"encoding":{"x":{"datum":12},"y":{"datum":17.1}}}]}
],"resolve":{"scale":{"color":"independent"}}},
{"hconcat":[
{"width":1064,"height":784,"data":{"name":"bb"},"layer":[
{"mark":{"type":"bar","size":186,"orient":"vertical"},"encoding":{"x":{"field":"pos","type":"quantitative","title":null,"scale":{"domain":[-0.032,3.786],"nice":false,"zero":false},"axis":{"values":[1,2,3],"offset":-159,"labelPadding":36,"labelFontSize":37,"labelFontWeight":"bold","labelExpr":"['BL','SNAP','RR'][datum.value-1]"}},"y":{"field":"v","type":"quantitative","title":"Current Density at -80mV","scale":{"domain":[-3.7,14.53],"nice":false,"zero":false},"axis":{"values":[0,2,4,6,8,10,12],"offset":-149,"ticks":true,"tickSize":13,"tickWidth":5,"tickColor":"#000","labelPadding":25,"labelFontSize":33,"titleFont":"Lato","titleFontSize":45,"titleFontWeight":"bold","titleColor":"#111","titleAngle":270,"titleAlign":"center","titleBaseline":"middle","titleX":-120,"titleY":344}},"color":{"field":"g","type":"nominal","scale":{"domain":["BL","SNAP","RR"],"range":["#4472C4","#00B050","#FF0000"]},"legend":null}}},
{"mark":{"type":"errorbar","orient":"vertical","color":"#000","ticks":{"size":16,"thickness":5,"color":"#000"},"rule":{"strokeWidth":5,"color":"#000"}},"encoding":{"x":{"field":"pos","type":"quantitative","title":null},"y":{"field":"hi","type":"quantitative","title":"Current Density at -80mV"},"y2":{"field":"lo"}}},
{"data":{"name":"one"},"mark":{"type":"rule","strokeWidth":7,"color":"#000"},"encoding":{"x":{"datum":0.46},"x2":{"datum":3.492},"y":{"datum":0}}},
{"data":{"name":"one"},"mark":{"type":"rule","strokeWidth":7,"color":"#000"},"encoding":{"x":{"datum":0.503},"y":{"datum":0},"y2":{"datum":12.95}}},
{"data":{"name":"one"},"mark":{"type":"rule","strokeWidth":6,"color":"#000"},"encoding":{"x":{"datum":0.93},"x2":{"datum":1.981},"y":{"datum":11.88}}},
{"data":{"name":"one"},"mark":{"type":"rule","strokeWidth":6,"color":"#000"},"encoding":{"x":{"datum":2.024},"x2":{"datum":2.971},"y":{"datum":11.9}}},
{"data":{"name":"one"},"mark":{"type":"text","text":"****","fontSize":68,"fontWeight":"bold","align":"center"},"encoding":{"x":{"datum":1.385},"y":{"datum":12.2}}},
{"data":{"name":"one"},"mark":{"type":"text","text":"**","fontSize":68,"fontWeight":"bold","align":"center"},"encoding":{"x":{"datum":2.496},"y":{"datum":12.2}}},
{"data":{"name":"one"},"mark":{"type":"rule","strokeWidth":6,"color":"#000"},"encoding":{"x":{"datum":0.682},"x2":{"datum":3.341},"y":{"datum":-2.17}}},
{"data":{"name":"one"},"mark":{"type":"text","text":"WT Microglia","fontSize":44,"fontWeight":"bold","align":"center"},"encoding":{"x":{"datum":1.984},"y":{"datum":-3.08}}},
{"data":{"name":"one"},"mark":{"type":"text","text":"(b)","fontSize":46,"align":"left"},"encoding":{"x":{"datum":-0.013},"y":{"datum":13.7}}}]},
{"width":1064,"height":784,"data":{"name":"bd"},"layer":[
{"mark":{"type":"bar","size":186,"orient":"vertical"},"encoding":{"x":{"field":"pos","type":"quantitative","title":null,"scale":{"domain":[-0.0801,3.7253],"nice":false,"zero":false},"axis":{"values":[1,2,3],"offset":-170,"labelPadding":39,"labelFontSize":37,"labelFontWeight":"bold","labelExpr":"['BL','SNAP','RR'][datum.value-1]"}},"y":{"field":"v","type":"quantitative","title":"Current Density at -80mV","scale":{"domain":[-3.95,14.28],"nice":false,"zero":false},"axis":{"values":[0,2,4,6,8,10,12],"offset":-166,"ticks":true,"tickSize":13,"tickWidth":5,"tickColor":"#000","labelPadding":25,"labelFontSize":33,"titleFont":"Lato","titleFontSize":45,"titleFontWeight":"bold","titleColor":"#111","titleAngle":270,"titleAlign":"center","titleBaseline":"middle","titleX":-119,"titleY":340}},"color":{"field":"g","type":"nominal","scale":{"domain":["BL","SNAP","RR"],"range":["#ED7D31","#00B050","#FF0000"]},"legend":null}}},
{"mark":{"type":"errorbar","orient":"vertical","color":"#000","ticks":{"size":16,"thickness":5,"color":"#000"},"rule":{"strokeWidth":5,"color":"#000"}},"encoding":{"x":{"field":"pos","type":"quantitative","title":null},"y":{"field":"hi","type":"quantitative","title":"Current Density at -80mV"},"y2":{"field":"lo"}}},
{"data":{"name":"one"},"mark":{"type":"rule","strokeWidth":7,"color":"#000"},"encoding":{"x":{"datum":0.466},"x2":{"datum":3.495},"y":{"datum":0}}},
{"data":{"name":"one"},"mark":{"type":"rule","strokeWidth":7,"color":"#000"},"encoding":{"x":{"datum":0.5125},"y":{"datum":0},"y2":{"datum":12.99}}},
{"data":{"name":"one"},"mark":{"type":"rule","strokeWidth":6,"color":"#000"},"encoding":{"x":{"datum":0.943},"x2":{"datum":2.043},"y":{"datum":12.21}}},
{"data":{"name":"one"},"mark":{"type":"rule","strokeWidth":6,"color":"#000"},"encoding":{"x":{"datum":2.079},"x2":{"datum":3.122},"y":{"datum":12.21}}},
{"data":{"name":"one"},"mark":{"type":"text","text":"***","fontSize":68,"fontWeight":"bold","align":"center"},"encoding":{"x":{"datum":1.357},"y":{"datum":12.32}}},
{"data":{"name":"one"},"mark":{"type":"text","text":"**","fontSize":68,"fontWeight":"bold","align":"center"},"encoding":{"x":{"datum":2.614},"y":{"datum":12.32}}},
{"data":{"name":"one"},"mark":{"type":"rule","strokeWidth":6,"color":"#000"},"encoding":{"x":{"datum":0.699},"x2":{"datum":3.351},"y":{"datum":-2.43}}},
{"data":{"name":"one"},"mark":{"type":"text","text":"iNOS","fontSize":42,"fontWeight":"bold","align":"left"},"encoding":{"x":{"datum":1.406},"y":{"datum":-3.37}}},
{"data":{"name":"one"},"mark":{"type":"text","text":"-/-","fontSize":28,"fontWeight":"bold","align":"left"},"encoding":{"x":{"datum":1.768},"y":{"datum":-3.1}}},
{"data":{"name":"one"},"mark":{"type":"text","text":"Microglia","fontSize":44,"fontWeight":"bold","align":"left"},"encoding":{"x":{"datum":1.918},"y":{"datum":-3.37}}},
{"data":{"name":"one"},"mark":{"type":"text","text":"(d)","fontSize":46,"align":"left"},"encoding":{"x":{"datum":-0.093},"y":{"datum":13.4}}}]}
],"resolve":{"scale":{"color":"independent"}}}
]}
